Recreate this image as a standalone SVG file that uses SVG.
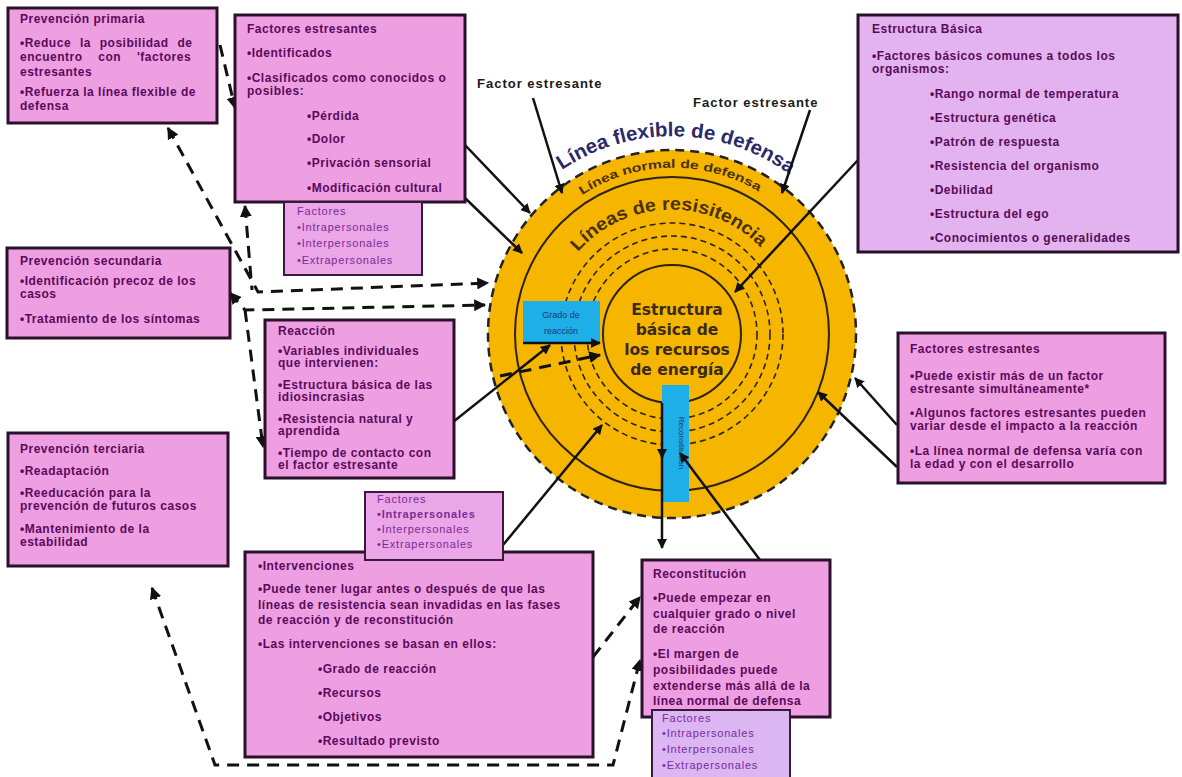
<svg xmlns="http://www.w3.org/2000/svg" width="1182" height="777" viewBox="0 0 1182 777">
<defs>
<marker id="ah" viewBox="0 0 10 10" refX="9" refY="5" markerWidth="4" markerHeight="4" orient="auto-start-reverse" markerUnits="strokeWidth"><path d="M0,0 L10,5 L0,10 z" fill="#111"/></marker>
<path id="arcFlex" d="M562,170 A198,198 0 0,1 793,177"/>
<path id="arcNorm" d="M582,195 A166,166 0 0,1 761,193"/>
<path id="arcRes" d="M578,252 A124,124 0 0,1 762,249"/>
</defs>
<style>
.box{fill:#ee9fe2;stroke:#2b102b;stroke-width:3}
.box2{fill:#e2b3ee;stroke:#2b102b;stroke-width:3}
.sbox{fill:#eaa6e6;stroke:#3a1a3a;stroke-width:2}
.sbox2{fill:#dcb6f2;stroke:#3a1a3a;stroke-width:2}
.t{font-family:"Liberation Sans",Arial,sans-serif;font-size:12px;letter-spacing:0.5px;font-weight:bold;fill:#5a0a5a}
.s{font-family:"Liberation Sans",Arial,sans-serif;font-size:11px;letter-spacing:0.8px;fill:#7a2a9a}
.lbl{font-family:"Liberation Sans",Arial,sans-serif;font-size:13px;letter-spacing:1px;font-weight:bold;fill:#1a1a1a}
.ln{stroke:#111;stroke-width:2.5;fill:none}
.dl{stroke:#111;stroke-width:3;fill:none;stroke-dasharray:12 8}
</style>
<rect width="1182" height="777" fill="#ffffff"/>

<g id="circle">
<circle cx="672" cy="334" r="184" fill="#f6b600" stroke="#222" stroke-width="2.5" stroke-dasharray="9 6"/>
<circle cx="672" cy="334" r="157" fill="none" stroke="#2e2210" stroke-width="2"/>
<circle cx="672" cy="334" r="111" fill="none" stroke="#2e2210" stroke-width="1.6" stroke-dasharray="6 4"/>
<circle cx="672" cy="334" r="98" fill="none" stroke="#2e2210" stroke-width="1.6" stroke-dasharray="6 4"/>
<circle cx="672" cy="334" r="85" fill="none" stroke="#2e2210" stroke-width="1.6" stroke-dasharray="6 4"/>
<circle cx="672" cy="334" r="69" fill="#f6b600" stroke="#2e2210" stroke-width="2"/>
<text font-family="Liberation Sans,Arial,sans-serif" font-size="20" font-weight="bold" fill="#2a2a6a"><textPath href="#arcFlex" textLength="242" lengthAdjust="spacingAndGlyphs">Línea flexible de defensa</textPath></text>
<text font-family="Liberation Sans,Arial,sans-serif" font-size="12" font-weight="bold" fill="#4a3000"><textPath href="#arcNorm" textLength="186" lengthAdjust="spacingAndGlyphs">Línea normal de defensa</textPath></text>
<text font-family="Liberation Sans,Arial,sans-serif" font-size="18" font-weight="bold" fill="#4a3000"><textPath href="#arcRes" textLength="205" lengthAdjust="spacingAndGlyphs">Líneas de resisitencia</textPath></text>
<text font-family="DejaVu Sans,sans-serif" font-size="15.5" font-weight="bold" fill="#3a2a18" text-anchor="middle"><tspan x="677" y="315">Estructura</tspan><tspan x="677" y="335">básica de</tspan><tspan x="677" y="355">los recursos</tspan><tspan x="677" y="375">de energía</tspan></text>
</g>

<g id="grado">
<rect x="523" y="301" width="77" height="42" fill="#1eaee8"/>
<text font-family="Liberation Sans,Arial,sans-serif" font-size="9" fill="#1a3a6a" text-anchor="middle"><tspan x="561" y="318">Grado de</tspan><tspan x="561" y="334">reacción</tspan></text>
</g>
<g id="reconst-blue">
<rect x="662" y="385" width="27" height="117" fill="#1eaee8"/>
<text font-family="Liberation Sans,Arial,sans-serif" font-size="8" fill="#1a3a6a" text-anchor="middle" transform="translate(679,443) rotate(90)">Reconstitución</text>
</g>

<g id="connectors">
<line class="ln" x1="533" y1="98" x2="562" y2="193" marker-end="url(#ah)"/>
<line class="ln" x1="810" y1="110" x2="782" y2="193" marker-end="url(#ah)"/>
<line class="ln" x1="465" y1="145" x2="530" y2="213" marker-end="url(#ah)"/>
<line class="ln" x1="465" y1="198" x2="522" y2="253" marker-end="url(#ah)"/>
<line class="ln" x1="858" y1="160" x2="735" y2="292" marker-end="url(#ah)"/>
<line class="ln" x1="897" y1="425" x2="855" y2="378" marker-end="url(#ah)"/>
<line class="ln" x1="897" y1="467" x2="818" y2="392" marker-end="url(#ah)"/>
<line class="ln" x1="453" y1="422" x2="550" y2="345" marker-end="url(#ah)"/>
<line class="ln" x1="523" y1="343" x2="600" y2="343" marker-end="url(#ah)"/>
<line class="ln" x1="503" y1="545" x2="602" y2="425" marker-end="url(#ah)"/>
<line class="ln" x1="760" y1="560" x2="680" y2="453" marker-end="url(#ah)"/>
<line class="ln" x1="662" y1="403" x2="662" y2="458" marker-end="url(#ah)"/>
<line class="ln" x1="662" y1="455" x2="662" y2="548" marker-end="url(#ah)"/>
<path class="dl" d="M168,128 L258,292 L488,283" marker-start="url(#ah)" marker-end="url(#ah)"/>
<path class="dl" d="M220,45 L235,108" marker-end="url(#ah)"/>
<path class="dl" d="M245,206 L252,290" marker-start="url(#ah)"/>
<path class="dl" d="M230,293 L245,310 L485,305" marker-start="url(#ah)" marker-end="url(#ah)"/>
<path class="dl" d="M245,310 L263,447" marker-end="url(#ah)"/>
<path class="dl" d="M500,376 L600,355" marker-end="url(#ah)"/>
<path class="dl" d="M593,657 L640,597" marker-end="url(#ah)"/>
<path class="dl" d="M152,588 L215,765 L613,765 L640,660" marker-start="url(#ah)" marker-end="url(#ah)"/>
</g>

<g id="prev-primaria">
<rect class="box" x="8" y="8" width="209" height="115"/>
<text class="t" x="20" y="23">Prevención primaria</text>
<text class="t" x="20" y="47" word-spacing="5">•Reduce la posibilidad de</text>
<text class="t" x="20" y="61" word-spacing="12">encuentro con 'factores</text>
<text class="t" x="20" y="76">estresantes</text>
<text class="t" x="20" y="96">•Refuerza la línea flexible de</text>
<text class="t" x="20" y="110">defensa</text>
</g>

<g id="factores-top">
<rect class="box" x="235" y="15" width="230" height="187"/>
<text class="t" x="247" y="33">Factores estresantes</text>
<text class="t" x="247" y="57">•Identificados</text>
<text class="t" x="247" y="82">•Clasificados como conocidos o</text>
<text class="t" x="247" y="95">posibles:</text>
<text class="t" x="307" y="120">•Pérdida</text>
<text class="t" x="307" y="143">•Dolor</text>
<text class="t" x="307" y="167">•Privación sensorial</text>
<text class="t" x="307" y="192">•Modificación cultural</text>
</g>
<g id="factores-small-top">
<rect class="sbox" x="284" y="202" width="138" height="73"/>
<text class="s" x="297" y="215">Factores</text>
<text class="s" x="297" y="231">•Intrapersonales</text>
<text class="s" x="297" y="247">•Interpersonales</text>
<text class="s" x="297" y="264">•Extrapersonales</text>
</g>

<g id="estructura-basica">
<rect class="box2" x="858" y="15" width="320" height="237"/>
<text class="t" x="872" y="33">Estructura Básica</text>
<text class="t" x="872" y="60">•Factores básicos comunes a todos los</text>
<text class="t" x="872" y="73">organismos:</text>
<text class="t" x="930" y="98">•Rango normal de temperatura</text>
<text class="t" x="930" y="122">•Estructura genética</text>
<text class="t" x="930" y="146">•Patrón de respuesta</text>
<text class="t" x="930" y="170">•Resistencia del organismo</text>
<text class="t" x="930" y="194">•Debilidad</text>
<text class="t" x="930" y="218">•Estructura del ego</text>
<text class="t" x="930" y="242">•Conocimientos o generalidades</text>
</g>

<g id="prev-secundaria">
<rect class="box" x="7" y="248" width="223" height="90"/>
<text class="t" x="20" y="265">Prevención secundaria</text>
<text class="t" x="20" y="285">•Identificación precoz de los</text>
<text class="t" x="20" y="298">casos</text>
<text class="t" x="20" y="323">•Tratamiento de los síntomas</text>
</g>

<g id="reaccion">
<rect class="box" x="265" y="320" width="189" height="158"/>
<text class="t" x="278" y="335">Reacción</text>
<text class="t" x="278" y="355">•Variables individuales</text>
<text class="t" x="278" y="367">que intervienen:</text>
<text class="t" x="278" y="389">•Estructura básica de las</text>
<text class="t" x="278" y="401">idiosincrasias</text>
<text class="t" x="278" y="423">•Resistencia natural y</text>
<text class="t" x="278" y="435">aprendida</text>
<text class="t" x="278" y="457">•Tiempo de contacto con</text>
<text class="t" x="278" y="469">el factor estresante</text>
</g>

<g id="factores-right">
<rect class="box" x="898" y="333" width="267" height="150"/>
<text class="t" x="910" y="353">Factores estresantes</text>
<text class="t" x="910" y="380">•Puede existir más de un factor</text>
<text class="t" x="910" y="393">estresante simultáneamente*</text>
<text class="t" x="910" y="417">•Algunos factores estresantes pueden</text>
<text class="t" x="910" y="430">variar desde el impacto a la reacción</text>
<text class="t" x="910" y="455">•La línea normal de defensa varía con</text>
<text class="t" x="910" y="468">la edad y con el desarrollo</text>
</g>

<g id="prev-terciaria">
<rect class="box" x="8" y="433" width="220" height="133"/>
<text class="t" x="20" y="453">Prevención terciaria</text>
<text class="t" x="20" y="475">•Readaptación</text>
<text class="t" x="20" y="497">•Reeducación para la</text>
<text class="t" x="20" y="510">prevención de futuros casos</text>
<text class="t" x="20" y="533">•Mantenimiento  de la</text>
<text class="t" x="20" y="546">estabilidad</text>
</g>

<g id="intervenciones">
<rect class="box" x="245" y="552" width="348" height="205"/>
<text class="t" x="258" y="570">•Intervenciones</text>
<text class="t" x="258" y="593">•Puede tener lugar antes o después de que las</text>
<text class="t" x="258" y="609">líneas de resistencia sean invadidas  en las fases</text>
<text class="t" x="258" y="624">de reacción y de reconstitución</text>
<text class="t" x="258" y="648">•Las intervenciones se basan en ellos:</text>
<text class="t" x="318" y="673">•Grado de reacción</text>
<text class="t" x="318" y="697">•Recursos</text>
<text class="t" x="318" y="721">•Objetivos</text>
<text class="t" x="318" y="745">•Resultado previsto</text>
</g>
<g id="factores-small-mid">
<rect class="sbox" x="365" y="492" width="138" height="68"/>
<text class="s" x="377" y="503">Factores</text>
<text class="s" x="377" y="518" font-weight="bold" fill="#5a0a5a">•Intrapersonales</text>
<text class="s" x="377" y="533">•Interpersonales</text>
<text class="s" x="377" y="548">•Extrapersonales</text>
</g>

<g id="reconstitucion">
<rect class="box" x="642" y="560" width="188" height="157"/>
<text class="t" x="653" y="578">Reconstitución</text>
<text class="t" x="653" y="602">•Puede empezar en</text>
<text class="t" x="653" y="618">cualquier grado o nivel</text>
<text class="t" x="653" y="633">de reacción</text>
<text class="t" x="653" y="658">•El margen de</text>
<text class="t" x="653" y="674">posibilidades  puede</text>
<text class="t" x="653" y="690">extenderse más allá de la</text>
<text class="t" x="653" y="705">línea normal de defensa</text>
</g>
<g id="factores-small-bottom">
<rect class="sbox2" x="652" y="710" width="138" height="70"/>
<text class="s" x="662" y="722">Factores</text>
<text class="s" x="662" y="737">•Intrapersonales</text>
<text class="s" x="662" y="753">•Interpersonales</text>
<text class="s" x="662" y="769">•Extrapersonales</text>
</g>

<g id="labels">
<text class="lbl" x="477" y="88">Factor estresante</text>
<text class="lbl" x="693" y="107">Factor estresante</text>
</g>
</svg>
